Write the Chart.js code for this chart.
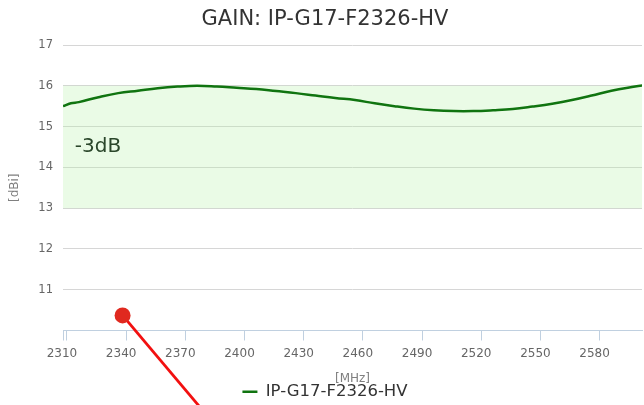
<!DOCTYPE html>
<html>
<head>
<meta charset="utf-8">
<script src="https://cdn.jsdelivr.net/npm/chart.js@4"></script>
<style>
  html, body { margin: 0; padding: 0; overflow: hidden; background: #fff; }
  canvas { display: block; }
</style>
</head>
<body>
<canvas id="c" width="650" height="410"></canvas>
<script>
// ---- data ----
const chartTitle = 'GAIN: IP-G17-F2326-HV';
const seriesName = 'IP-G17-F2326-HV';
const freqMHz = [2308, 2312, 2316, 2326, 2336, 2346, 2356, 2366, 2376, 2386, 2396, 2406, 2416, 2426, 2436, 2446,
                 2456, 2466, 2476, 2486, 2496, 2506, 2516, 2526, 2536, 2546, 2556, 2566, 2576, 2586, 2598, 2606];
const gainDBi = [15.50, 15.57, 15.60, 15.72, 15.82, 15.88, 15.94, 15.98, 16.00, 15.98, 15.95, 15.92, 15.87, 15.82, 15.76, 15.70,
                 15.65, 15.57, 15.50, 15.44, 15.40, 15.38, 15.38, 15.40, 15.43, 15.49, 15.56, 15.65, 15.76, 15.88, 15.98, 16.04];
const xTicks = [2310, 2340, 2370, 2400, 2430, 2460, 2490, 2520, 2550, 2580];
const xMin = 2308, xMax = 2601.5;
const yMin = 10, yMax = 17;
const bandFreq = [2308, 2620];
const bandTop = 16, bandBottom = 13;
const bandLabel = '-3dB';
const bandLabelX = 2314, bandLabelY = 14.5;
const pointerX = [2338.2, 2383.2];
const pointerY = [10.37, 7.79];

// ---- style ----
const lineColor = '#107410';
Chart.defaults.font.family = '"DejaVu Sans", Verdana, sans-serif';

const bandLabelPlugin = {
  id: 'bandLabel',
  afterDatasetsDraw(chart) {
    const {ctx, scales: {x, y}} = chart;
    ctx.save();
    ctx.font = '20px "DejaVu Sans"';
    ctx.fillStyle = '#2b472b';
    ctx.textAlign = 'left';
    ctx.textBaseline = 'middle';
    ctx.fillText(bandLabel, x.getPixelForValue(bandLabelX), y.getPixelForValue(bandLabelY));
    ctx.restore();
  }
};

new Chart(document.getElementById('c'), {
  type: 'line',
  data: {
    datasets: [
      {
        label: seriesName,
        data: freqMHz.map((f, i) => ({x: f, y: gainDBi[i]})),
        borderColor: lineColor,
        backgroundColor: lineColor,
        borderWidth: 2.5,
        pointRadius: 0,
        tension: 0.4,
        fill: false,
        order: 1
      },
      {
        label: 'band',
        data: bandFreq.map(f => ({x: f, y: bandTop})),
        borderWidth: 0,
        pointRadius: 0,
        backgroundColor: 'rgba(178, 240, 165, 0.28)',
        fill: {value: bandBottom},
        order: 3
      },
      {
        label: 'pointer',
        data: pointerX.map((f, i) => ({x: f, y: pointerY[i]})),
        borderColor: '#f21010',
        backgroundColor: '#e0291f',
        borderWidth: 2.8,
        pointRadius: [8, 0],
        pointBorderWidth: 0,
        pointBackgroundColor: '#e0291f',
        tension: 0,
        fill: false,
        clip: false,
        order: 0
      }
    ]
  },
  options: {
    responsive: false,
    animation: false,
    events: [],
    layout: {padding: {left: 0, right: 0, top: 0, bottom: 0}},
    plugins: {
      title: {
        display: true,
        text: chartTitle,
        color: '#333333',
        font: {size: 21, weight: 'normal'},
        padding: {top: 7, bottom: 12.8}
      },
      legend: {
        position: 'bottom',
        labels: {
          color: '#333333',
          font: {size: 16.5},
          boxWidth: 15,
          boxHeight: 2.5,
          padding: 1.2,
          generateLabels(chart) {
            return Chart.defaults.plugins.legend.labels.generateLabels(chart)
              .filter(l => l.datasetIndex === 0)
              .map(l => Object.assign(l, {lineWidth: 0, fillStyle: lineColor, strokeStyle: lineColor}));
          }
        }
      },
      tooltip: {enabled: false}
    },
    scales: {
      x: {
        type: 'linear',
        min: xMin,
        max: xMax,
        afterBuildTicks(scale) {
          scale.ticks = [{value: xMin}].concat(xTicks.map(v => ({value: v})));
        },
        ticks: {
          color: '#666666',
          font: {size: 12},
          padding: 6,
          labelOffset: -5,
          maxRotation: 0,
          autoSkip: false,
          callback: (v) => xTicks.includes(v) ? String(v) : ''
        },
        grid: {
          drawOnChartArea: false,
          drawTicks: true,
          tickLength: 10,
          color: '#c0d0e0'
        },
        border: {display: true, color: '#c0d0e0', width: 1},
        title: {
          display: true,
          text: '[MHz]',
          color: '#808080',
          font: {size: 12},
          padding: {top: 5, bottom: -4}
        }
      },
      y: {
        min: yMin,
        max: yMax,
        afterFit(scale) { scale.width = 63; },
        ticks: {
          stepSize: 1,
          color: '#666666',
          font: {size: 11.5},
          padding: 10,
          callback: (v) => v === yMin ? '' : String(v)
        },
        grid: {
          drawTicks: false,
          color: (ctx) => ctx.tick && ctx.tick.value === yMin ? 'rgba(0,0,0,0)' : '#d6d6d6',
          lineWidth: 1
        },
        border: {display: false},
        title: {
          display: true,
          text: '[dBi]',
          color: '#808080',
          font: {size: 12},
          padding: {top: 8, bottom: 0}
        }
      }
    }
  },
  plugins: [bandLabelPlugin]
});
</script>
</body>
</html>
